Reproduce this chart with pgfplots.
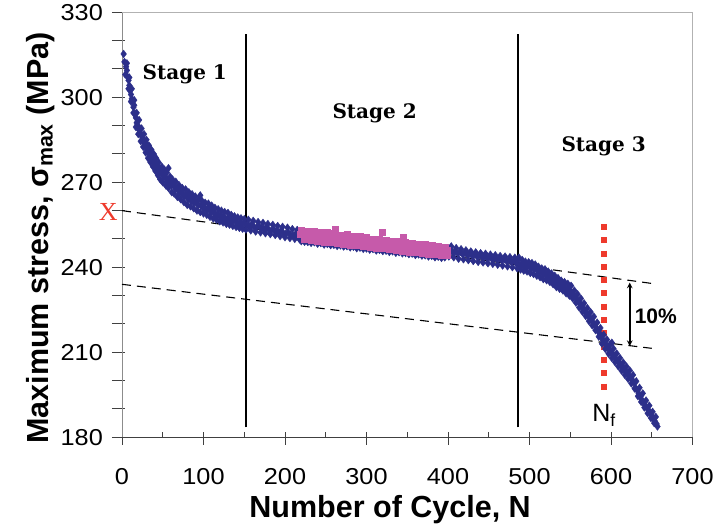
\documentclass[border=0pt]{standalone}
\usepackage{pgfplots}
\pgfplotsset{compat=1.18}
\usepackage{fontspec}
\setmainfont{Liberation Sans}
\newfontfamily\stagefont{DejaVu Serif}
\newfontfamily\xserif{Liberation Serif}
\definecolor{navy}{RGB}{44,47,138}
\definecolor{pinkm}{RGB}{198,90,170}
\definecolor{redd}{RGB}{238,58,44}
\begin{document}
\begin{tikzpicture}
\path[use as bounding box] (0,0) rectangle (713bp,531bp);
\begin{axis}[
  at={(122bp,93.7bp)}, anchor=south west,
  scale only axis, width=570.5bp, height=425bp,
  xmin=0, xmax=700, ymin=180, ymax=330,
  clip=false,
  axis line style={draw=none},
  xtick={0,100,...,700}, minor xtick={50,150,...,650},
  ytick={180,190,...,330},
  yticklabels={180,,,210,,,240,,,270,,,300,,,330},
  xtick pos=bottom, ytick pos=left,
  tick align=center,
  major tick length=13bp, minor tick length=5.6bp,
  major x tick style={yshift=-1bp},
  minor x tick style={yshift=2.8bp},
  y tick style={xshift=-3.5bp},
  tick style={line width=1bp, draw=black!75},
  /pgf/number format/assume math mode=true,
  tick label style={font=\fontsize{23bp}{26bp}\selectfont, xscale=1.1},
  xticklabel style={yshift=-21bp},
  yticklabel style={xshift=-8bp},
  xlabel={\bfseries Number of Cycle, N},
  xlabel style={font=\fontsize{30.5bp}{36bp}\selectfont, at={(rel axis cs:0.47,-0.171)}, anchor=center},
  ylabel={\bfseries Maximum stress, σ\textsubscript{max} (MPa)},
  ylabel style={font=\fontsize{30.5bp}{36bp}\selectfont, at={(rel axis cs:-0.142,0.469)}, anchor=center},
]
% frame
\draw[black!45, line width=1bp] (rel axis cs:0,0) -- (rel axis cs:0,1);
\draw[black!30, line width=1bp] (rel axis cs:0,1) -- (rel axis cs:1,1) -- (rel axis cs:1,0);
\draw[black!75, line width=1bp] (rel axis cs:0,0) -- (rel axis cs:1,0);
% dashed lines
\addplot[black, line width=1.1bp, dash pattern=on 9bp off 6bp] coordinates {(0,260) (650,234.3)};
\addplot[black, line width=1.1bp, dash pattern=on 9bp off 6bp] coordinates {(0,234) (650,211.4)};
% blue data
\addplot[only marks, mark=diamond*, mark size=3.8bp, mark options={draw=navy, fill=navy}] coordinates {
(2,315.3) (5,310.8) (6,309.5) (7,307.2) (8,306.0) (9,304.2) (10,302.5) (11,301.0) (12,299.5) (13,298.8)
(14,296.5) (15,297.2) (16,294.3) (17,292.8) (18,291.0) (19,290.2) (20,289.6) (21,288.4) (22,288.9) (23,287.2)
(24,286.5) (25,285.9) (26,285.0) (27,284.1) (28,283.6) (29,283.9) (30,282.2) (31,281.5) (32,281.8) (33,280.4)
(34,279.8) (35,280.3) (36,278.6) (37,278.1) (38,277.8) (39,276.9) (40,277.2) (42,276.0) (43,275.1) (44,275.6)
(46,274.2) (47,273.6) (48,273.9) (50,272.8) (51,272.1) (53,271.7) (55,271.2) (56,270.4) (57,275.0) (58,270.8)
(60,269.6) (61,268.9) (63,269.3) (65,268.2) (66,267.6) (68,268.0) (70,266.9) (71,266.3) (73,266.8) (75,265.6)
(76,265.1) (78,265.7) (80,264.5) (82,264.0) (83,264.6) (85,263.5) (87,263.9) (88,262.8) (90,263.2) (92,262.4)
(94,262.0) (96,265.4) (97,261.8) (99,261.2) (100,261.7) (102,260.8) (104,260.3) (106,260.9) (108,259.8) (110,259.5)
(112,260.0) (114,258.9) (116,258.4) (118,258.8) (120,258.0) (122,257.5) (124,258.1) (126,257.3) (128,256.9) (130,257.4)
(132,256.6) (135,256.2) (137,256.8) (140,255.9) (142,255.4) (145,256.0) (147,255.2) (150,255.6) (153,255.0) (156,254.6)
(159,255.1) (162,254.3) (165,254.0) (168,254.6) (171,253.8) (174,253.5) (177,254.1) (180,253.3) (183,252.9) (186,253.4)
(189,252.7) (192,252.3) (195,252.9) (198,252.1) (201,251.8) (204,252.3) (207,251.5) (210,251.2) (213,251.7) (216,250.9)
(400,245.8) (403,246.3) (406,245.2) (409,245.6) (412,244.9) (415,245.4) (418,244.6) (421,245.1) (424,244.3) (427,244.8)
(430,244.0) (433,244.5) (436,243.7) (439,244.2) (442,243.5) (445,243.9) (448,243.2) (451,243.7) (454,242.9) (457,243.4)
(460,242.8) (463,243.1) (466,242.4) (469,242.9) (472,242.2) (475,242.6) (478,241.8) (481,242.4) (484,241.3) (486,242.8)
(488,241.0) (490,240.4) (492,241.5) (494,240.8) (496,240.1) (498,240.9) (500,240.3) (502,239.6) (504,240.4) (506,239.2)
(508,239.8) (510,238.9) (512,238.4) (514,238.9) (516,237.8) (518,238.2) (520,237.3) (522,236.8) (524,237.2) (526,236.1)
(528,235.6) (530,235.9) (532,235.0) (534,234.3) (536,234.8) (538,233.6) (540,233.1) (542,233.5) (544,232.6) (546,232.2)
(548,232.7) (550,231.5) (552,231.1) (554,230.2) (556,229.6) (558,228.7) (560,227.9) (562,227.2) (564,226.0) (566,225.5)
(568,224.6) (570,223.8) (572,223.0) (574,222.3) (576,221.4) (578,220.5) (580,219.6) (582,218.6) (584,217.5) (586,216.7)
(588,215.4) (590,214.2) (592,213.6) (594,212.4) (596,211.8) (598,210.9) (600,210.0) (601,213.4) (602,209.3) (604,208.8)
(606,207.6) (608,207.0) (610,206.3) (612,205.6) (614,204.7) (616,204.1) (618,203.2) (620,202.6) (622,201.8) (624,200.9)
(626,200.3) (628,199.4) (630,197.5) (632,196.6) (634,195.5) (636,194.3) (638,193.2) (640,192.2) (642,191.3) (644,190.4)
(646,189.6) (648,188.7) (650,187.6) (652,186.6) (654,185.6) (656,184.7)
};
% blue data, scatter around the trend
\addplot[only marks, mark=diamond*, mark size=3.8bp, mark options={draw=navy, fill=navy}] coordinates {
(3,312.5) (4,308.0) (6,312.0) (8,303.0) (9,307.0) (11,298.5) (12,303.0) (14,294.5) (15,299.0) (17,289.5)
(18,294.5) (20,287.0) (21,292.0) (23,284.5) (24,289.0) (26,282.5) (27,287.0) (29,280.5) (30,285.0) (32,278.5)
(33,283.0) (35,277.0) (36,281.5) (38,275.5) (39,280.0) (41,274.0) (42,278.5) (44,272.5) (45,277.0) (47,271.0)
(49,275.5) (50,270.0) (52,274.5) (54,268.8) (55,273.5) (57,268.0) (59,272.0) (61,266.5) (62,271.0) (64,266.0)
(66,270.2) (68,264.8) (70,269.0) (72,264.0) (74,268.0) (76,263.0) (78,267.5) (80,262.0) (82,266.5) (84,261.5)
(86,265.8) (88,260.8) (90,265.0) (92,260.0) (94,264.0) (96,259.5) (98,263.5) (100,259.0) (102,262.8) (104,258.5)
(106,262.5) (108,257.8) (110,261.8) (112,257.2) (114,261.0) (116,256.8) (118,260.5) (120,256.2) (122,260.0) (124,255.8)
(126,259.5) (128,255.3) (130,259.2) (132,255.0) (134,258.5) (136,254.6) (138,258.0) (140,254.2) (142,257.6) (144,253.9)
(146,257.3) (148,253.6) (150,257.0) (152,253.3) (155,256.8) (158,253.0) (161,256.4) (164,252.6) (167,256.0) (170,252.3)
(173,255.7) (176,252.0) (179,255.3) (182,251.7) (185,255.0) (188,251.4) (191,254.6) (194,251.0) (197,254.3) (200,250.6)
(203,254.0) (206,250.3) (209,253.5) (212,250.0) (215,253.2) (218,249.8)
(220,249.2) (224,249.0) (228,248.9) (232,248.6) (236,248.8) (240,248.3) (244,248.5) (248,248.0) (252,248.2) (256,247.8)
(260,247.9) (264,247.5) (268,247.7) (272,247.3) (276,247.4) (280,247.0) (284,247.2) (288,246.7) (292,246.9) (296,246.5)
(300,246.6) (304,246.2) (308,246.4) (312,245.9) (316,246.1) (320,245.7) (324,245.8) (328,245.4) (332,245.6) (336,245.1)
(340,245.3) (344,244.9) (348,245.0) (352,244.6) (356,244.8) (360,244.3) (364,244.5) (368,244.1) (372,244.2) (376,243.8)
(380,244.0) (384,243.5) (388,243.7) (392,243.3) (396,243.5)
(401,243.8) (404,247.4) (407,243.5) (410,246.8) (413,243.0) (416,246.4) (419,242.8) (422,246.0) (425,242.5) (428,245.6)
(431,242.2) (434,245.3) (437,241.9) (440,245.0) (443,241.7) (446,244.8) (449,241.4) (452,244.5) (455,241.2) (458,244.3)
(461,240.9) (464,244.0) (467,240.6) (470,243.8) (473,240.3) (476,243.6) (479,240.0) (482,243.4) (485,239.6) (487,243.4)
(489,239.2) (491,242.6) (493,238.8) (495,242.0) (497,238.5) (499,241.8) (501,238.0) (503,241.5) (505,237.6) (507,241.0)
(509,237.0) (511,240.2) (513,236.5) (515,239.6) (517,235.8) (519,239.3) (521,235.4) (523,238.5) (525,234.8) (527,237.8)
(529,234.0) (531,237.0) (533,233.0) (535,236.2) (537,232.4) (539,235.3) (541,231.8) (543,234.8) (545,230.8) (547,234.2)
(549,230.0) (551,233.5) (553,229.0) (555,231.8) (557,227.5) (559,230.5) (561,225.8) (563,229.0) (565,224.3) (567,227.3)
(569,222.8) (571,225.6) (573,221.0) (575,224.2) (577,219.5) (579,222.6) (581,217.8) (583,220.5) (585,215.5) (587,218.6)
(589,213.0) (591,216.2) (593,211.2) (595,214.5) (597,209.5) (599,212.8) (601,208.0) (603,211.3) (605,206.5) (607,209.6)
(609,205.0) (611,208.0) (613,203.5) (615,206.4) (617,202.0) (619,205.0) (621,200.6) (623,203.6) (625,199.0) (627,202.0)
(629,197.2) (631,199.8) (633,194.5) (635,197.5) (637,192.5) (639,195.5) (641,190.5) (643,193.0) (645,188.5) (647,191.2)
(649,186.8) (651,189.0) (653,185.0) (655,187.2) (657,183.8)
};
% pink data
\addplot[only marks, mark=square*, mark size=3bp, mark options={draw=pinkm, fill=pinkm}] coordinates {
(219,251.6) (221,252.5) (223,250.6) (225,251.9) (227,250.3) (229,252.2) (231,251.0) (233,250.0) (235,251.8) (237,250.5)
(239,252.0) (241,250.2) (243,251.3) (245,249.8) (247,251.6) (249,250.4) (251,249.6) (253,251.2) (255,250.0) (257,251.5)
(259,249.4) (261,250.8) (263,249.7) (265,251.0) (267,249.2) (269,250.5) (271,249.5) (273,250.9) (275,248.9) (277,250.2)
(279,249.3) (281,250.6) (283,248.8) (285,250.0) (287,249.0) (289,250.4) (291,248.6) (293,249.7) (295,248.7) (297,250.1)
(299,248.4) (301,249.4) (303,248.9) (305,249.8) (307,248.2) (309,249.3) (311,248.0) (313,249.4) (315,248.3) (317,249.0)
(319,252.4) (321,247.8) (323,248.9) (325,247.6) (327,248.8) (329,247.9) (331,248.6) (333,247.3) (335,248.5) (337,247.5)
(339,248.2) (341,247.0) (343,248.3) (345,247.2) (347,248.0) (349,246.8) (351,247.9) (353,246.9) (355,247.6) (357,246.5)
(359,247.8) (361,246.6) (363,247.3) (365,246.2) (367,247.5) (369,246.4) (371,247.0) (373,245.9) (375,247.4) (377,246.1)
(379,246.8) (381,245.7) (383,246.9) (385,245.6) (387,246.5) (389,245.3) (391,246.6) (393,245.2) (395,246.2) (397,245.0)
(399,245.9)
(220,253.0) (224,249.8) (228,252.9) (232,249.6) (236,252.6) (240,249.3) (244,252.4) (248,249.0) (252,252.3) (256,248.8)
(260,251.9) (262,253.4) (264,248.5) (268,251.5) (272,248.3) (276,251.6) (280,247.9) (284,251.0) (288,247.7) (292,250.9)
(296,247.3) (300,250.6) (304,247.1) (308,250.0) (312,246.9) (316,249.9) (320,246.6) (324,249.6) (328,246.3) (332,249.3)
(336,246.0) (340,249.1) (344,245.8) (345,250.6) (348,248.8) (352,245.5) (356,248.5) (360,245.3) (364,248.1) (368,245.0)
(372,248.0) (376,244.7) (380,247.7) (384,244.5) (388,247.4) (392,244.3) (396,247.0) (399,244.2)
};
% fit line
\addplot[black, line width=2bp] coordinates {(219.3,251.4) (398.4,245.5)};
% stage boundaries
\addplot[black, line width=1.8bp] coordinates {(152,183.5) (152,322.5)};
\addplot[black, line width=1.8bp] coordinates {(485.5,183.5) (485.5,322.5)};
% Nf dotted line
\addplot[redd, line width=6bp, dash pattern=on 6bp off 7.3bp] coordinates {(591,255.3) (591,196)};
% arrow
\draw[<->, >=stealth, line width=1.5bp] (axis cs:623,234.6) -- (axis cs:623,212.2);
\node[font=\bfseries\fontsize{21bp}{24bp}\selectfont] at (axis cs:655,222.8) {10\%};
\node[font=\fontsize{25bp}{28bp}\selectfont, anchor=base] at (axis cs:591.5,185.4) {N\textsubscript{f}};
\node[text=redd, font=\xserif\fontsize{26bp}{28bp}\selectfont] at (axis cs:-17,259.5) {X};
\node[font=\stagefont\bfseries\fontsize{20bp}{24bp}\selectfont] at (axis cs:77,308) {Stage 1};
\node[font=\stagefont\bfseries\fontsize{20bp}{24bp}\selectfont] at (axis cs:310,294.5) {Stage 2};
\node[font=\stagefont\bfseries\fontsize{20bp}{24bp}\selectfont] at (axis cs:591,282.8) {Stage 3};
\end{axis}
\end{tikzpicture}
\end{document}
